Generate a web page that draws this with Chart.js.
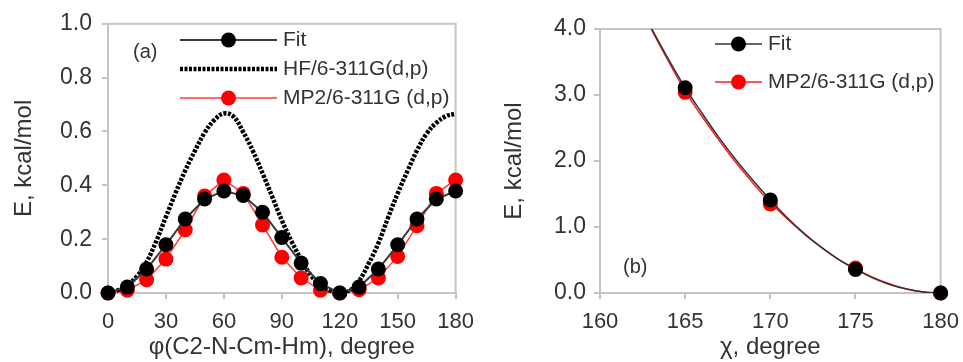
<!DOCTYPE html>
<html lang="en">
<head>
<meta charset="UTF-8">
<title>Torsion energy profiles</title>
<script src="https://cdn.jsdelivr.net/npm/chart.js"></script>
<style>
  body { margin: 0; background: #fff; }
  #wrap { position: relative; width: 963px; height: 362px; overflow: hidden; }
  #left, #right { position: absolute; top: 0; }
  #left { left: 0; }
  #right { left: 480px; }
</style>
</head>
<body>
<div id="wrap">
  <div id="left"><canvas id="phiChart" width="480" height="362"></canvas></div>
  <div id="right"><canvas id="chiChart" width="485" height="362"></canvas></div>
</div>
<script>
// (a) scan over phi(C2-N-Cm-Hm)
const phiAngles = [0, 10, 20, 30, 40, 50, 60, 70, 80, 90, 100, 110, 120, 130, 140, 150, 160, 170, 180];
const phiFit = [0, 0.022, 0.089, 0.179, 0.275, 0.349, 0.379, 0.362, 0.300, 0.206, 0.111, 0.035, 0, 0.022, 0.089, 0.179, 0.275, 0.349, 0.379];
const phiMp2 = [0, 0.010, 0.049, 0.126, 0.235, 0.360, 0.420, 0.370, 0.253, 0.133, 0.056, 0.010, 0, 0.012, 0.056, 0.136, 0.250, 0.370, 0.420];
const hfAngles = [0, 5, 10, 15, 20, 25, 30, 35, 40, 45, 50, 55, 60, 65, 70, 75, 80, 85, 90,
  95, 100, 105, 110, 115, 120, 125, 130, 135, 140, 145, 150, 155, 160, 165, 170, 175, 180];
const hfValues = [0, 0.010, 0.030, 0.062, 0.115, 0.193, 0.283, 0.372, 0.455, 0.528, 0.595, 0.642, 0.667, 0.655, 0.598, 0.528, 0.445, 0.358, 0.270,
  0.192, 0.125, 0.066, 0.030, 0.008, 0, 0.008, 0.045, 0.110, 0.185, 0.280, 0.370, 0.452, 0.530, 0.592, 0.632, 0.657, 0.666];

// (b) scan over chi
const chiAngles = [165, 170, 175, 180];
const chiFit = [3.11, 1.41, 0.357, 0];
const chiMp2 = [3.04, 1.35, 0.377, 0];
const chiCurveAngles = [163, 164, 165, 166, 167, 168, 169, 170, 171, 172, 173, 174, 175, 176, 177, 178, 179, 180];
const chiFitCurve = [4.02, 3.55, 3.11, 2.72, 2.35, 2.01, 1.70, 1.41, 1.14, 0.90, 0.69, 0.51, 0.36, 0.23, 0.13, 0.06, 0.015, 0];
const chiMp2Curve = [4.00, 3.52, 3.06, 2.67, 2.31, 1.97, 1.66, 1.37, 1.12, 0.89, 0.69, 0.51, 0.37, 0.24, 0.14, 0.06, 0.015, 0];

const pts = (xs, ys) => xs.map((x, i) => ({ x: x, y: ys[i] }));

const textColor = '#333';
const axisColor = '#c4c4c4';
Chart.defaults.font.family = "'Liberation Sans', Arial, sans-serif";
Chart.defaults.color = textColor;

// gray box round the plot area
const frame = {
  id: 'frame',
  beforeDatasetsDraw(chart, args, opts) {
    const { ctx, chartArea: a } = chart;
    ctx.save();
    ctx.strokeStyle = opts.color;
    ctx.lineWidth = opts.width;
    ctx.strokeRect(a.left, a.top, a.right - a.left, a.bottom - a.top);
    ctx.restore();
  }
};

// legend with line + marker swatches, and the panel tag
const lineLegend = {
  id: 'lineLegend',
  afterDatasetsDraw(chart, args, opts) {
    const ctx = chart.ctx;
    const ds = chart.data.datasets;
    ctx.save();
    ctx.textBaseline = 'middle';
    opts.items.forEach((item, i) => {
      const y = opts.top + i * opts.rowGap;
      const ln = ds[item.line];
      ctx.strokeStyle = ln.borderColor;
      ctx.lineWidth = ln.borderWidth;
      ctx.setLineDash(ln.borderDash || []);
      ctx.beginPath();
      ctx.moveTo(opts.x0, y);
      ctx.lineTo(opts.x1, y);
      ctx.stroke();
      ctx.setLineDash([]);
      if (item.point !== undefined) {
        const pt = ds[item.point];
        ctx.fillStyle = pt.pointBackgroundColor;
        ctx.beginPath();
        ctx.arc((opts.x0 + opts.x1) / 2, y, pt.pointRadius, 0, Math.PI * 2);
        ctx.fill();
      }
      ctx.fillStyle = textColor;
      ctx.font = opts.font;
      ctx.fillText(ds[item.point !== undefined ? item.point : item.line].label, opts.textX, y);
    });
    ctx.font = opts.tagFont;
    ctx.fillText(opts.tag, opts.tagX, opts.tagY);
    ctx.restore();
  }
};

function axes(xMin, xMax, xStep, xTitle, yMax, yStep, yWidth, yTitlePad, yTickPad) {
  return {
    x: {
      type: 'linear', min: xMin, max: xMax,
      ticks: { stepSize: xStep, font: { size: 22, lineHeight: 1.5 }, padding: 6, color: textColor },
      grid: { drawOnChartArea: false, tickLength: 6, color: axisColor, lineWidth: 2 },
      border: { color: axisColor, width: 2 },
      title: { display: true, text: xTitle, font: { size: 24 }, color: textColor, padding: { top: 0, bottom: 0 } },
      afterFit: s => { s.height = 69; }
    },
    y: {
      min: 0, max: yMax,
      ticks: { stepSize: yStep, font: { size: 23 }, padding: yTickPad, color: textColor, callback: v => v.toFixed(1) },
      grid: { drawOnChartArea: false, tickLength: 6, color: axisColor, lineWidth: 2 },
      border: { color: axisColor, width: 2 },
      title: { display: true, text: 'E, kcal/mol', font: { size: 24 }, color: textColor, padding: { top: yTitlePad, bottom: 0 } },
      afterFit: s => { s.width = yWidth; }
    }
  };
}

new Chart(document.getElementById('phiChart'), {
  type: 'scatter',
  data: {
    datasets: [
      {
        label: 'Fit', data: pts(phiAngles, phiFit), showLine: true, order: 0, clip: false,
        borderColor: '#3a3a3a', borderWidth: 2, tension: 0,
        pointRadius: 7.5, pointBackgroundColor: '#000', pointBorderWidth: 0
      },
      {
        label: 'HF/6-311G(d,p)', data: pts(hfAngles, hfValues), showLine: true, order: 1,
        borderColor: '#000', borderWidth: 4.5, borderDash: [3, 1.5], tension: 0.4,
        pointRadius: 0
      },
      {
        label: 'MP2/6-311G (d,p)', data: pts(phiAngles, phiMp2), showLine: true, order: 2, clip: false,
        borderColor: '#ff3b3b', borderWidth: 1.5, tension: 0,
        pointRadius: 7.5, pointBackgroundColor: '#ff0000', pointBorderWidth: 0
      }
    ]
  },
  options: {
    responsive: false,
    animation: false,
    layout: { padding: { top: 23, right: 24, left: 0, bottom: 0 } },
    scales: axes(0, 180, 30, 'φ(C2-N-Cm-Hm), degree', 1, 0.2, 108, 10, 10),
    plugins: {
      legend: { display: false },
      tooltip: { enabled: false },
      frame: { color: axisColor, width: 2 },
      lineLegend: {
        items: [{ line: 0, point: 0 }, { line: 1 }, { line: 2, point: 2 }],
        x0: 180, x1: 277, textX: 283, top: 40, rowGap: 29,
        font: "21px 'Liberation Sans', Arial, sans-serif",
        tagFont: "20px 'Liberation Sans', Arial, sans-serif",
        tag: '(a)', tagX: 133, tagY: 52
      }
    }
  },
  plugins: [frame, lineLegend]
});

new Chart(document.getElementById('chiChart'), {
  type: 'scatter',
  data: {
    datasets: [
      {
        label: 'Fit', data: pts(chiAngles, chiFit), showLine: false, order: 0, clip: false,
        pointRadius: 7.5, pointBackgroundColor: '#000', pointBorderWidth: 0
      },
      {
        label: 'Fit curve', data: pts(chiCurveAngles, chiFitCurve), showLine: true, order: 1,
        borderColor: '#333', borderWidth: 1.5, tension: 0.4, pointRadius: 0
      },
      {
        label: 'MP2/6-311G (d,p)', data: pts(chiAngles, chiMp2), showLine: false, order: 2, clip: false,
        pointRadius: 7.5, pointBackgroundColor: '#ff0000', pointBorderWidth: 0
      },
      {
        label: 'MP2 curve', data: pts(chiCurveAngles, chiMp2Curve), showLine: true, order: 3,
        borderColor: '#ff2020', borderWidth: 1.5, tension: 0.4, pointRadius: 0
      }
    ]
  },
  options: {
    responsive: false,
    animation: false,
    layout: { padding: { top: 29, right: 24, left: 0, bottom: 0 } },
    scales: axes(160, 180, 5, 'χ, degree', 4, 1, 120, 20, 8),
    plugins: {
      legend: { display: false },
      tooltip: { enabled: false },
      frame: { color: axisColor, width: 2 },
      lineLegend: {
        items: [{ line: 1, point: 0 }, { line: 3, point: 2 }],
        x0: 235, x1: 282, textX: 288, top: 44, rowGap: 38,
        font: "21px 'Liberation Sans', Arial, sans-serif",
        tagFont: "20px 'Liberation Sans', Arial, sans-serif",
        tag: '(b)', tagX: 143, tagY: 267
      }
    }
  },
  plugins: [frame, lineLegend]
});
</script>
</body>
</html>
